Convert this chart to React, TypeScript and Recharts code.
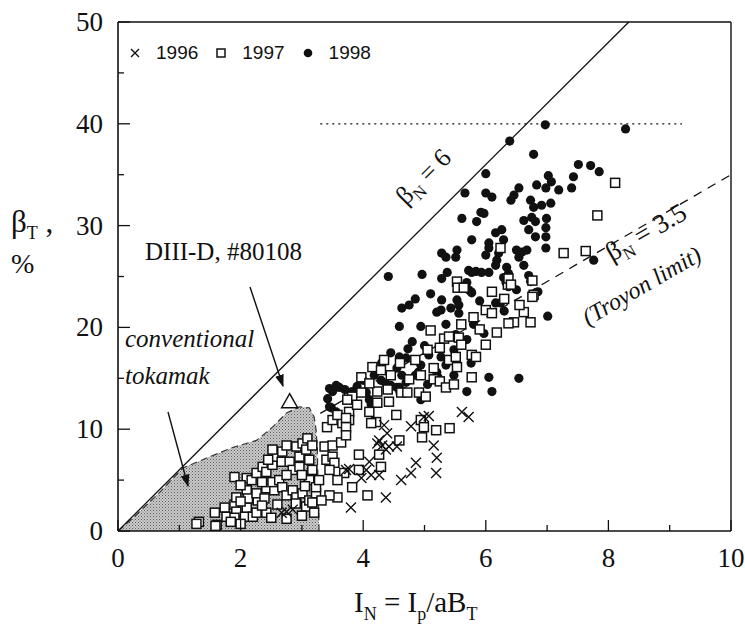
import React from "react";
import { ComposedChart, Area, Scatter, XAxis, YAxis, ReferenceLine, Legend } from "recharts";

const W = 745;
const H = 632;
const serif = "'Liberation Serif', 'Times New Roman', serif";
const sans = "'Liberation Sans', Arial, sans-serif";
const ink = "#111";

// axes
const xTicks = [0, 1, 2, 3, 4, 5, 6, 7, 8, 9, 10];
const yTicks = [0, 5, 10, 15, 20, 25, 30, 35, 40, 45, 50];

// shaded "conventional tokamak" region (upper boundary)
const shadeX = [0, 0.25, 0.68, 1.06, 1.5, 1.87, 2.26, 2.52, 2.75, 2.96, 3.12, 3.2, 3.23, 3.25, 3.28];
const shadeY = [0, 1.3, 3.8, 6.2, 7.3, 8.2, 8.9, 10.2, 11.6, 12.2, 12.1, 11.2, 10, 8.3, 0];

// DIII-D #80108
const diiidPoint: [number, number][] = [[2.8, 12.7]];

// 1996 (crosses)
const pts1996: [number, number][] = [
  [4.34, 10.4], [4.39, 9.6], [4.26, 8.9], [4.23, 8.6], [4.31, 8.4], [4.42, 8.3], [4.37, 8.0],
  [4.78, 10.3], [5.07, 11.3], [5.61, 11.7], [5.72, 11.2], [4.55, 8.3], [5.15, 8.4], [5.2, 7.2],
  [4.1, 6.8], [4.05, 6.0], [3.97, 5.2], [4.13, 5.5], [4.26, 5.5], [4.86, 6.7], [4.78, 5.7],
  [4.62, 5.0], [5.19, 5.7], [3.77, 6.1], [4.37, 3.3], [3.8, 2.3], [4.99, 11.2], [3.72, 6.0],
  [2.67, 1.8], [2.75, 1.9], [2.85, 2.1],
];

// 1997 (open squares)
const pts1997: [number, number][] = [
  [8.11, 34.2], [7.82, 31.0], [7.27, 27.3], [7.63, 27.5], [6.24, 27.8], [5.53, 24.5], [6.76, 24.6],
  [6.78, 23.2], [6.36, 24.2], [6.76, 23.0], [6.62, 21.5], [6.73, 20.5], [5.54, 23.9], [5.64, 23.9],
  [6.37, 24.8], [6.41, 24.2], [6.0, 21.7], [6.1, 21.4], [5.8, 21.0], [6.46, 20.5], [6.37, 20.4],
  [6.18, 19.5], [5.1, 19.7], [5.32, 18.9], [5.4, 19.1], [5.56, 19.0], [6.0, 18.3], [5.77, 17.3],
  [5.84, 17.1], [5.4, 16.8], [5.51, 17.1], [4.34, 16.8], [4.15, 16.1], [4.29, 15.8], [3.97, 15.1],
  [4.94, 15.3], [5.15, 16.0], [5.53, 16.1], [5.77, 15.1], [4.75, 14.9], [5.15, 14.9], [5.25, 14.7],
  [5.35, 14.1], [5.48, 14.4], [4.62, 13.6], [4.72, 13.6], [4.91, 13.6], [5.02, 13.2], [4.23, 13.7],
  [4.23, 12.6], [4.42, 12.7], [3.77, 13.1], [3.82, 13.2], [3.97, 13.6], [3.77, 11.7], [3.77, 10.9],
  [3.66, 10.6], [4.1, 11.7], [4.21, 10.7], [4.13, 10.6], [4.54, 11.4], [4.94, 10.9], [4.99, 10.2],
  [5.19, 9.9], [5.41, 10.1], [4.96, 9.2], [4.59, 8.9], [4.26, 7.5], [3.93, 7.5], [4.29, 6.3],
  [3.93, 6.0], [3.69, 5.7], [3.82, 4.3], [4.07, 3.5], [3.58, 3.3],
  [4.45, 15.3], [4.6, 16.5], [4.85, 16.8], [5.05, 17.8], [5.25, 18.0], [5.6, 18.3], [5.9, 19.8],
  [6.3, 22.8], [6.55, 22.2], [4.1, 14.5], [3.9, 12.4], [4.4, 13.9], [5.6, 20.3], [6.1, 23.5],
  [1.32, 0.9], [1.58, 1.8], [1.61, 0.6], [1.74, 2.3], [1.77, 1.4], [1.9, 2.6], [1.93, 1.9],
  [1.9, 1.3], [2.07, 1.4], [2.1, 2.3], [2.2, 1.4], [2.26, 1.8], [2.42, 1.8], [2.28, 3.0],
  [1.9, 5.3], [1.93, 3.3], [2.1, 4.0], [2.12, 3.2], [2.26, 3.7], [2.39, 3.2], [2.42, 4.2],
  [2.55, 4.0], [2.52, 4.8], [2.63, 5.0], [2.68, 4.3], [2.75, 3.5], [2.85, 4.0], [2.91, 3.3],
  [3.01, 3.7], [3.07, 2.4], [3.12, 3.0], [3.23, 3.7], [3.17, 2.8], [2.1, 5.2], [2.18, 5.0],
  [2.26, 5.7], [2.36, 6.3], [2.42, 5.8], [2.52, 6.5], [2.59, 7.3], [2.52, 8.0], [2.68, 7.8],
  [2.75, 8.4], [2.67, 6.8], [2.8, 6.8], [2.85, 6.0], [2.96, 6.3], [2.96, 7.3], [2.91, 8.3],
  [3.01, 8.6], [3.09, 9.1], [3.07, 8.0], [3.17, 8.4], [3.12, 7.0], [3.17, 6.0], [3.12, 5.0],
  [3.23, 4.3], [3.28, 5.0], [3.37, 8.3], [3.5, 8.4], [3.64, 8.7], [3.4, 7.0], [3.5, 7.3],
  [3.53, 6.7], [3.45, 6.0], [3.58, 5.0], [3.45, 3.5], [3.32, 3.0], [3.41, 10.2], [3.5, 10.9],
  [3.58, 11.4], [3.72, 11.1], [3.72, 10.2], [3.72, 9.4], [3.74, 12.9], [1.28, 0.7], [1.59, 0.5],
  [1.84, 0.9], [2.0, 0.7], [2.6, 2.6], [2.75, 1.2], [3.0, 1.5], [3.2, 1.8],
  [2.0, 2.9], [2.35, 2.5], [2.5, 1.3], [2.9, 2.7], [2.45, 7.0], [2.75, 5.5], [3.0, 5.5],
  [3.05, 4.4], [2.35, 4.8], [2.0, 4.5],
];

// 1998 (filled circles)
const pts1998: [number, number][] = [
  [6.97, 39.9], [8.28, 39.5], [6.39, 38.3], [6.78, 37.0], [6.0, 35.1], [7.51, 36.0], [7.71, 35.9],
  [7.85, 35.3], [5.66, 33.2], [6.0, 33.2], [6.1, 32.8], [6.54, 33.7], [6.46, 33.0], [6.41, 32.5],
  [6.83, 34.0], [7.02, 34.9], [7.07, 34.3], [7.19, 33.5], [7.43, 34.8], [7.4, 33.7], [6.98, 33.7],
  [6.73, 32.5], [6.78, 31.8], [6.91, 32.0], [7.06, 32.2], [5.92, 31.3], [5.97, 31.2], [5.85, 30.4],
  [5.61, 30.7], [6.62, 30.5], [6.75, 30.8], [6.81, 30.4], [6.7, 29.6], [6.99, 30.7], [6.98, 29.8],
  [6.98, 28.9], [6.81, 28.9], [6.26, 29.6], [6.16, 29.3], [6.29, 28.6], [5.77, 28.6], [6.05, 28.3],
  [6.05, 27.8], [6.0, 27.1], [6.21, 27.3], [6.18, 26.6], [6.16, 26.1], [6.5, 27.6], [6.59, 27.4],
  [6.67, 27.6], [6.54, 26.9], [6.98, 27.8], [5.53, 27.6], [5.51, 26.9], [5.28, 27.3], [5.35, 26.9],
  [6.62, 26.1], [5.72, 25.6], [5.84, 25.5], [5.93, 25.4], [6.05, 25.4], [5.77, 25.4], [6.34, 25.9],
  [6.37, 25.3], [6.29, 24.9], [6.33, 24.4], [6.37, 24.0], [6.7, 25.1], [6.73, 24.5], [6.5, 23.7],
  [5.69, 24.4], [5.72, 23.7], [5.77, 23.4], [5.37, 25.4], [5.28, 24.8], [4.96, 25.2], [4.41, 25.0],
  [7.76, 26.6], [6.85, 23.5], [7.01, 21.1], [6.54, 15.0],
  [5.67, 23.9], [5.76, 23.5], [5.28, 22.7], [5.53, 22.7], [5.56, 22.2], [5.43, 21.9], [5.2, 21.5],
  [5.27, 21.7], [5.56, 21.4], [4.63, 21.9], [4.75, 22.2], [6.16, 22.4], [6.24, 22.4], [4.59, 20.1],
  [4.94, 20.1], [5.51, 19.3], [5.69, 18.8], [5.97, 19.4], [4.73, 17.9], [4.59, 17.1], [4.7, 17.0],
  [5.07, 17.3], [5.27, 17.1], [5.48, 17.8], [5.76, 16.5], [4.94, 16.3], [4.9, 15.6], [4.85, 15.3],
  [4.55, 16.0], [4.63, 15.3], [5.2, 15.6], [5.22, 15.1], [5.48, 15.3], [4.18, 15.3], [4.29, 14.8],
  [4.37, 14.5], [6.05, 15.1], [4.45, 14.3], [4.55, 14.1], [4.6, 13.6], [3.56, 14.3], [3.45, 14.0],
  [3.5, 13.7], [5.69, 13.7], [6.1, 13.7], [3.82, 13.7], [4.05, 13.6], [4.1, 12.9], [3.45, 12.2],
  [4.13, 12.4], [3.61, 14.1], [3.48, 12.1], [3.56, 11.7], [4.59, 14.1], [4.94, 12.9], [3.42, 13.0],
  [3.7, 13.9],
  [4.3, 16.5], [4.45, 17.5], [4.8, 18.6], [5.0, 18.2], [5.35, 20.3], [5.8, 20.3], [5.1, 23.3],
  [4.85, 22.8], [5.9, 22.6], [6.3, 21.6], [4.0, 14.8], [3.9, 14.2], [4.7, 14.6], [5.05, 14.4],
  [5.35, 16.3],
];

const toXY = (pts: [number, number][]) => pts.map(([x, y]) => ({ x, y }));
const shadeData = shadeX.map((x, i) => ({ x, y: shadeY[i] }));

function XTick(props: any) {
  const { x, y, payload } = props;
  const v = payload.value;
  const major = v % 2 === 0;
  return (
    <g>
      <line x1={x} y1={y} x2={x} y2={y - (major ? 11 : 6)} stroke={ink} strokeWidth={1.3} />
      {major && (
        <text x={x} y={y + 36} textAnchor="middle" fontFamily={serif} fontSize={27} fill={ink}>
          {v}
        </text>
      )}
    </g>
  );
}

function YTick(props: any) {
  const { x, y, payload } = props;
  const v = payload.value;
  const major = v % 10 === 0;
  return (
    <g>
      <line x1={x} y1={y} x2={x + (major ? 12 : 6)} y2={y} stroke={ink} strokeWidth={1.3} />
      {major && (
        <text x={x - 15} y={y + 9} textAnchor="end" fontFamily={serif} fontSize={27} fill={ink}>
          {v}
        </text>
      )}
    </g>
  );
}

const Cross = (p: any) => {
  const s = 5;
  return (
    <path
      d={`M${p.cx - s},${p.cy - s}L${p.cx + s},${p.cy + s}M${p.cx - s},${p.cy + s}L${p.cx + s},${p.cy - s}`}
      stroke={ink}
      strokeWidth={1.4}
    />
  );
};
const Square = (p: any) => (
  <rect x={p.cx - 4.5} y={p.cy - 4.5} width={9} height={9} fill="#fff" stroke={ink} strokeWidth={1.5} />
);
const Dot = (p: any) => <circle cx={p.cx} cy={p.cy} r={4.6} fill={ink} />;
const Tri = (p: any) => (
  <path
    d={`M${p.cx},${p.cy - 8}L${p.cx + 8},${p.cy + 6}L${p.cx - 8},${p.cy + 6}Z`}
    fill="#fff"
    stroke={ink}
    strokeWidth={1.5}
  />
);

function LegendRow() {
  const item = (marker: React.ReactNode, label: string) => (
    <span style={{ display: "inline-flex", alignItems: "center", marginRight: 16 }}>
      <svg width={14} height={14} style={{ marginRight: 14 }}>
        {marker}
      </svg>
      <span>{label}</span>
    </span>
  );
  return (
    <div style={{ fontFamily: sans, fontSize: 19, color: ink, display: "flex", whiteSpace: "nowrap" }}>
      {item(<path d="M3,3L11,11M3,11L11,3" stroke={ink} strokeWidth={1.4} />, "1996")}
      {item(<rect x={3} y={3} width={8} height={8} fill="#fff" stroke={ink} strokeWidth={1.5} />, "1997")}
      {item(<circle cx={7} cy={7} r={4.3} fill={ink} />, "1998")}
    </div>
  );
}

export default function App() {
  return (
    <div style={{ position: "absolute", left: 0, top: 0, width: W, height: H, background: "#fff" }}>
      <ComposedChart
        width={W}
        height={H}
        data={shadeData}
        margin={{ top: 22, right: 14, bottom: 71, left: 58 }}
      >
        <XAxis
          dataKey="x"
          type="number"
          domain={[0, 10]}
          ticks={xTicks}
          interval={0}
          tickSize={0}
          tickMargin={0}
          tickLine={false}
          axisLine={{ stroke: ink, strokeWidth: 1.6 }}
          tick={<XTick />}
          height={30}
          allowDataOverflow
        />
        <YAxis
          type="number"
          domain={[0, 50]}
          ticks={yTicks}
          interval={0}
          tickSize={0}
          tickMargin={0}
          tickLine={false}
          axisLine={{ stroke: ink, strokeWidth: 1.6 }}
          tick={<YTick />}
          width={60}
          allowDataOverflow
        />
        <Legend
          verticalAlign="middle"
          align="center"
          layout="horizontal"
          wrapperStyle={{ top: 42, left: 128, width: 320, height: 24 }}
          content={() => <LegendRow />}
        />
        <Area
          type="linear"
          dataKey="y"
          fill="url(#stipple)"
          fillOpacity={1}
          stroke="#333"
          strokeWidth={1.2}
          strokeDasharray="7 4"
          isAnimationActive={false}
        />
        <ReferenceLine y={50} stroke={ink} strokeWidth={1.4} />
        <ReferenceLine x={10} stroke={ink} strokeWidth={1.4} />
        <ReferenceLine segment={[{ x: 0, y: 0 }, { x: 50 / 6, y: 50 }]} stroke={ink} strokeWidth={1.3} />
        <ReferenceLine
          segment={[{ x: 3.3, y: 3.5 * 3.3 }, { x: 10, y: 35 }]}
          stroke={ink}
          strokeWidth={1.3}
          strokeDasharray="9 7"
        />
        <ReferenceLine
          segment={[{ x: 3.3, y: 40 }, { x: 9.2, y: 40 }]}
          stroke={ink}
          strokeWidth={1.3}
          strokeDasharray="2 4"
        />
        <Scatter name="1998" data={toXY(pts1998)} dataKey="y" shape={Dot} isAnimationActive={false} />
        <Scatter name="1997" data={toXY(pts1997)} dataKey="y" shape={Square} isAnimationActive={false} />
        <Scatter name="1996" data={toXY(pts1996)} dataKey="y" shape={Cross} isAnimationActive={false} />
        <Scatter name="DIII-D #80108" data={toXY(diiidPoint)} dataKey="y" shape={Tri} isAnimationActive={false} />
      </ComposedChart>

      <svg
        width={W}
        height={H}
        style={{ position: "absolute", left: 0, top: 0, pointerEvents: "none" }}
      >
        <defs>
          <pattern id="stipple" width="3" height="3" patternUnits="userSpaceOnUse">
            <rect width="3" height="3" fill="#c9c9c9" />
            <rect width="1" height="1" fill="#5e5e5e" />
            <rect x="1.5" y="1.5" width="1" height="1" fill="#7e7e7e" />
          </pattern>
          <marker id="arrow" viewBox="0 0 10 10" refX="9" refY="5" markerWidth="9" markerHeight="9" orient="auto">
            <path d="M0,1.5L10,5L0,8.5Z" fill={ink} />
          </marker>
        </defs>

        <g fontFamily={serif} fill={ink}>
          {/* y axis title */}
          <text x={11} y={232} fontSize={31}>
            β<tspan fontSize={18} dy={7}>T</tspan>
            <tspan dy={-7}> ,</tspan>
          </text>
          <text x={11} y={273} fontSize={28}>%</text>

          {/* x axis title */}
          <text x={354} y={612} fontSize={29}>
            I<tspan fontSize={18} dy={8}>N</tspan>
            <tspan dy={-8}> = I</tspan>
            <tspan fontSize={18} dy={8}>p</tspan>
            <tspan dy={-8}>/aB</tspan>
            <tspan fontSize={18} dy={8}>T</tspan>
          </text>

          {/* beta_N lines */}
          <text transform="translate(406,206) rotate(-45)" fontSize={26}>
            β<tspan fontSize={17} dy={6}>N</tspan>
            <tspan dy={-6}> = 6</tspan>
          </text>
          <text transform="translate(612,262) rotate(-30)" fontSize={27}>
            β<tspan fontSize={17} dy={6}>N</tspan>
            <tspan dy={-6}> = 3.5</tspan>
          </text>
          <text transform="translate(588,326) rotate(-30)" fontSize={24} fontStyle="italic">
            (Troyon limit)
          </text>

          <text x={145} y={260} fontSize={25}>DIII-D, #80108</text>
          <text x={125} y={347} fontSize={25} fontStyle="italic">conventional</text>
          <text x={125} y={384} fontSize={25} fontStyle="italic">tokamak</text>
        </g>

        <line x1={250} y1={287} x2={283} y2={386} stroke={ink} strokeWidth={1.4} markerEnd="url(#arrow)" />
        <line x1={168} y1={412} x2={188} y2={486} stroke={ink} strokeWidth={1.4} markerEnd="url(#arrow)" />
      </svg>
    </div>
  );
}
